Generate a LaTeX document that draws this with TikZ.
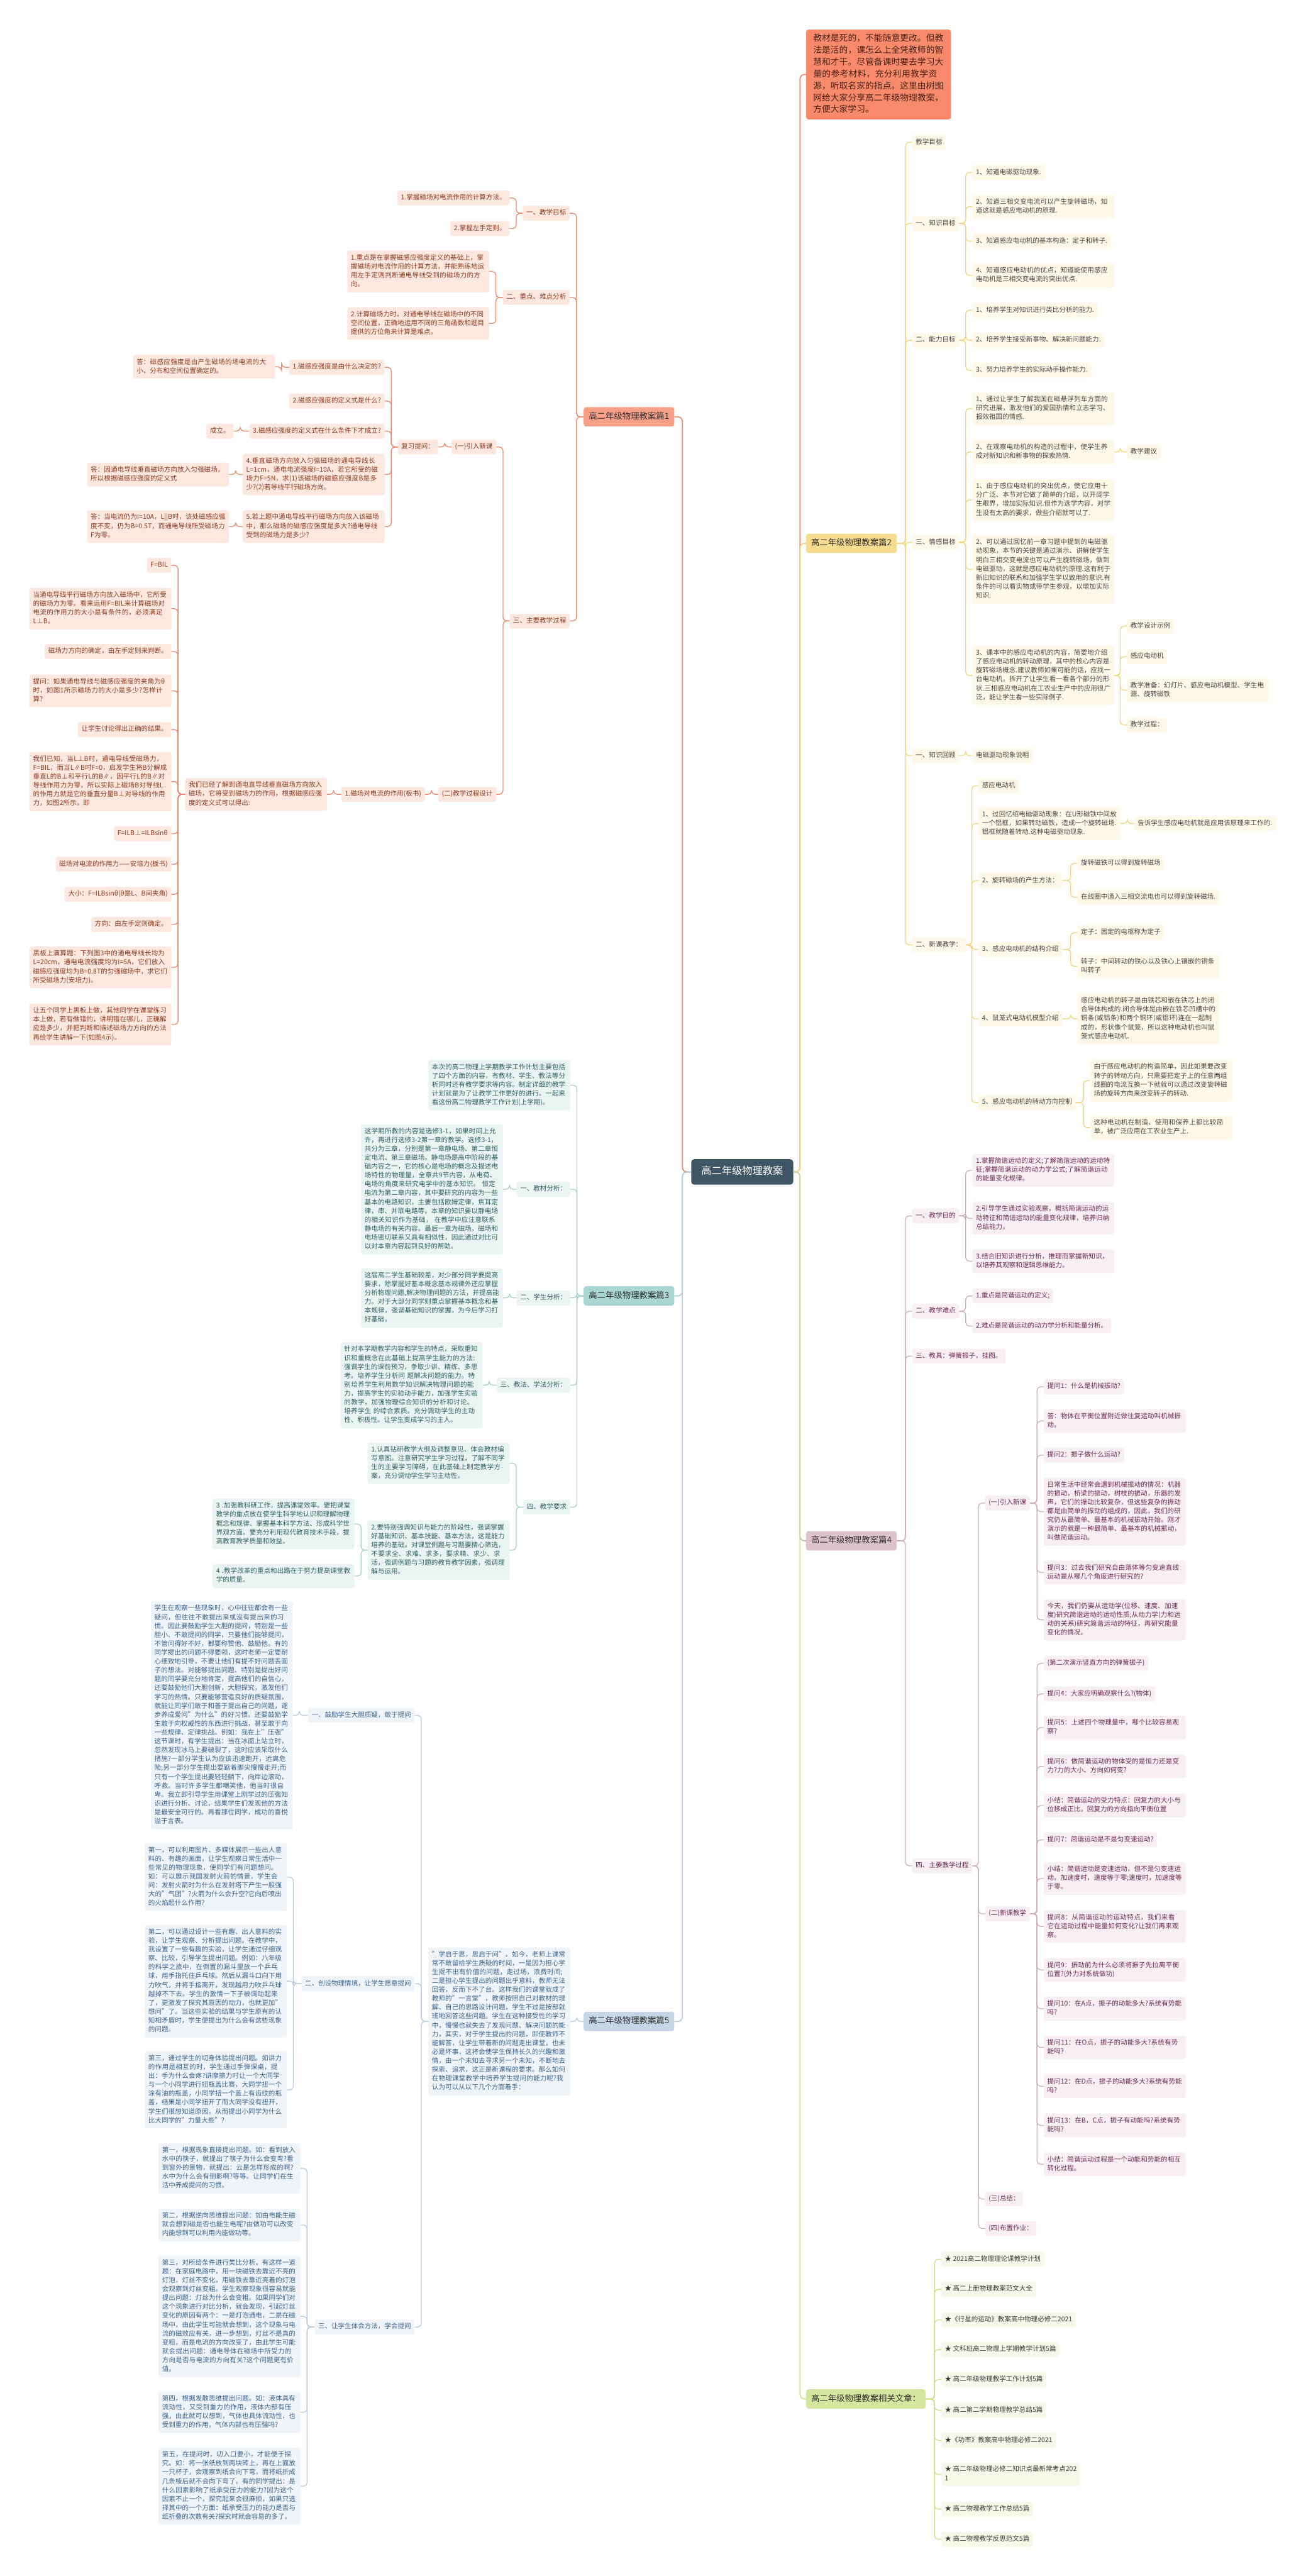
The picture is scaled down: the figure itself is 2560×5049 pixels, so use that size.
\documentclass[tikz,border=0pt]{standalone}
\usepackage{fontspec}
\setmainfont{Noto Sans CJK SC}
\XeTeXlinebreaklocale "zh"
\XeTeXlinebreakskip=0pt plus 1pt

\definecolor{rootF}{HTML}{3F5664}
\definecolor{ink}{HTML}{333333}
\definecolor{introF}{HTML}{F9896B}
\definecolor{introT}{HTML}{4A2418}
\definecolor{oB}{HTML}{F6A088}
\definecolor{oF}{HTML}{FDE8E0}
\definecolor{oT}{HTML}{8A3A20}
\definecolor{oL}{HTML}{EC8B70}
\definecolor{yB}{HTML}{F7DC90}
\definecolor{yF}{HTML}{FDF8E7}
\definecolor{yT}{HTML}{474747}
\definecolor{yL}{HTML}{F2D57F}
\definecolor{tB}{HTML}{A9D6D0}
\definecolor{tF}{HTML}{EAF4F2}
\definecolor{tT}{HTML}{2F625C}
\definecolor{tL}{HTML}{A6D1CB}
\definecolor{mB}{HTML}{DCC2CD}
\definecolor{mF}{HTML}{F7EFF3}
\definecolor{mT}{HTML}{6C2B4B}
\definecolor{mL}{HTML}{CDAFBC}
\definecolor{bB}{HTML}{C7D6E6}
\definecolor{bF}{HTML}{EFF4F9}
\definecolor{bT}{HTML}{3A6189}
\definecolor{bL}{HTML}{BBCDE0}
\definecolor{gB}{HTML}{D6E69F}
\definecolor{gF}{HTML}{F6F9EA}
\definecolor{gT}{HTML}{3A3A3A}
\definecolor{gL}{HTML}{CFE190}

\tikzset{
  box/.style={rounded corners=4pt, inner xsep=7pt, inner ysep=5.8pt, align=left,
    font=\fontsize{13}{17.4}\selectfont,
    execute at begin node=\strut, execute at end node=\strut},
  wd/.style={text width=264pt},
  bra/.style={rounded corners=5pt, inner xsep=10pt, inner ysep=8pt, text=ink,
    font=\fontsize{16.5}{22}\selectfont, execute at begin node=\strut},
  lk/.style={line width=1.6pt, rounded corners=7pt},
  trunk/.style={line width=2.2pt, rounded corners=9pt},
  nO/.style={box, fill=oF, text=oT}, lO/.style={lk, draw=oL},
  nY/.style={box, fill=yF, text=yT}, lY/.style={lk, draw=yL},
  nT/.style={box, fill=tF, text=tT}, lT/.style={lk, draw=tL},
  nM/.style={box, fill=mF, text=mT}, lM/.style={lk, draw=mL},
  nB/.style={box, fill=bF, text=bT}, lB/.style={lk, draw=bL},
  nG/.style={box, fill=gF, text=gT}, lG/.style={lk, draw=gL}
}
\newcommand\lkL[3]{\foreach \kid in {#3}{\draw[#1] (\kid.east) -- ++(13,0) |- (#2.west);}}
\newcommand\lkR[3]{\foreach \kid in {#3}{\draw[#1] (\kid.west) -- ++(-13,0) |- (#2.east);}}

\begin{document}
\begin{tikzpicture}[x=1pt,y=-1pt]
\fill[white] (0,0) rectangle (2560,5049);
\useasboundingbox (0,0) rectangle (2560,5049);

\node[fill=rootF, text=white, rounded corners=6pt, inner xsep=20pt, inner ysep=12pt,
  font=\fontsize{20}{26}\selectfont, execute at begin node=\strut] (root) at (1455,2297) {高二年级物理教案};

% 篇1
\node[bra, fill=oB, right] (p1) at (1144,817) {高二年级物理教案篇1};
\node[nO, left] (p1a) at (1117,418) {一、教学目标};
\node[nO, left] (p1a1) at (999,388) {1.掌握磁场对电流作用的计算方法。};
\node[nO, left] (p1a2) at (999,448) {2.掌握左手定则。};
\node[nO, left] (p1b) at (1117,583) {二、重点、难点分析};
\node[nO, wd, left] (p1b1) at (959,532) {1.重点是在掌握磁感应强度定义的基础上，掌握磁场对电流作用的计算方法，并能熟练地运用左手定则判断通电导线受到的磁场力的方向。};
\node[nO, wd, left] (p1b2) at (959,634) {2.计算磁场力时，对通电导线在磁场中的不同空间位置，正确地运用不同的三角函数和题目提供的方位角来计算是难点。};
\node[nO, left] (p1c) at (1117,1217) {三、主要教学过程};
\node[nO, left] (p1c1) at (973,876) {(一)引入新课};
\node[nO, left] (fx) at (859,876) {复习提问：};
\node[nO, left] (q1) at (754,720) {1.磁感应强度是由什么决定的?};
\node[nO, left] (q2) at (754,786) {2.磁感应强度的定义式是什么?};
\node[nO, left] (q3) at (754,845) {3.磁感应强度的定义式在什么条件下才成立?};
\node[nO, wd, left] (q4) at (754,930) {4.垂直磁场方向放入匀强磁场的通电导线长L=1cm，通电电流强度I=10A，若它所受的磁场力F=5N，求(1)该磁场的磁感应强度B是多少?(2)若导线平行磁场方向。};
\node[nO, wd, left] (q5) at (754,1032) {5.若上题中通电导线平行磁场方向放入该磁场中，那么磁场的磁感应强度是多大?通电导线受到的磁场力是多少?};
\node[nO, wd, left] (a1) at (539,719) {答：磁感应强度是由产生磁场的场电流的大小、分布和空间位置确定的。};
\node[nO, left] (a3) at (458,845) {成立。};
\node[nO, wd, left] (a4) at (449,930) {答：因通电导线垂直磁场方向放入匀强磁场，所以根据磁感应强度的定义式};
\node[nO, wd, left] (a5) at (449,1032) {答：当电流仍为I=10A，L||B时，该处磁感应强度不变，仍为B=0.5T，而通电导线所受磁场力F为零。};
\node[nO, left] (p1c2) at (973,1557) {(二)教学过程设计};
\node[nO, left] (bz) at (833,1557) {1.磁场对电流的作用(板书)};
\node[nO, wd, left] (bp) at (641,1557) {我们已经了解到通电直导线垂直磁场方向放入磁场，它将受到磁场力的作用，根据磁感应强度的定义式可以得出:};
\node[nO, left] (c1) at (336,1108) {F=BIL};
\node[nO, wd, left] (c2) at (336,1193) {当通电导线平行磁场方向放入磁场中，它所受的磁场力为零。看来运用F=BIL来计算磁场对电流的作用力的大小是有条件的，必须满足L⊥B。};
\node[nO, left] (c3) at (336,1277) {磁场力方向的确定，由左手定则来判断。};
\node[nO, wd, left] (c4) at (336,1354) {提问：如果通电导线与磁感应强度的夹角为θ时，如图1所示磁场力的大小是多少?怎样计算?};
\node[nO, left] (c5) at (336,1430) {让学生讨论得出正确的结果。};
\node[nO, wd, left] (c6) at (336,1532) {我们已知，当L⊥B时，通电导线受磁场力，F=BIL，而当L∥B时F=0，启发学生将B分解成垂直L的B⊥和平行L的B∥，因平行L的B∥对导线作用力为零，所以实际上磁场B对导线L的作用力就是它的垂直分量B⊥对导线的作用力，如图2所示。即};
\node[nO, left] (c7) at (336,1634) {F=ILB⊥=ILBsinθ};
\node[nO, left] (c8) at (336,1694) {磁场对电流的作用力——安培力(板书)};
\node[nO, left] (c9) at (336,1753) {大小：F=ILBsinθ(θ是L、B间夹角)};
\node[nO, left] (c10) at (336,1812) {方向：由左手定则确定。};
\node[nO, wd, left] (c11) at (336,1896) {黑板上演算题：下列图3中的通电导线长均为L=20cm，通电电流强度均为I=5A，它们放入磁感应强度均为B=0.8T的匀强磁场中，求它们所受磁场力(安培力)。};
\node[nO, wd, left] (c12) at (336,2008) {让五个同学上黑板上做，其他同学在课堂练习本上做，若有做错的，讲明错在哪儿，正确解应是多少，并把判断和描述磁场力方向的方法再给学生讲解一下(如图4示)。};

% 篇3
\node[bra, fill=tB, right] (p3) at (1144,2540) {高二年级物理教案篇3};
\node[nT, wd, left] (p3i) at (1118,2127) {本次的高二物理上学期教学工作计划主要包括了四个方面的内容，有教材、学生、教法等分析同时还有教学要求等内容。制定详细的教学计划就是为了让教学工作更好的进行。一起来看这份高二物理教学工作计划(上学期)。};
\node[nT, left] (p3a) at (1118,2331) {一、教材分析：};
\node[nT, wd, left] (p3a1) at (986,2331) {这学期所教的内容是选修3-1，如果时间上允许，再进行选修3-2第一章的教学。选修3-1，共分为三章，分别是第一章静电场、第二章恒定电流、第三章磁场。静电场是高中阶段的基础内容之一，它的核心是电场的概念及描述电场特性的物理量，全章共9节内容，从电荷、电场的角度来研究电学中的基本知识。 恒定电流为第二章内容，其中要研究的内容为一些基本的电路知识，主要包括欧姆定律，焦耳定律，串、并联电路等。本章的知识要以静电场的相关知识作为基础， 在教学中应注意联系静电场的有关内容。最后一章为磁场，磁场和电场密切联系又具有相似性，因此通过对比可以对本章内容起到良好的帮助。};
\node[nT, left] (p3b) at (1118,2544) {二、学生分析：};
\node[nT, wd, left] (p3b1) at (986,2544) {这届高二学生基础较差，对少部分同学要提高要求，除掌握好基本概念基本规律外还应掌握分析物理问题,解决物理问题的方法，并提高能力。对于大部分同学则重点掌握基本概念和基本规律，强调基础知识的掌握，为今后学习打好基础。};
\node[nT, left] (p3c) at (1118,2715) {三、教法、学法分析：};
\node[nT, wd, left] (p3c1) at (946,2715) {针对本学期教学内容和学生的特点，采取重知识和重概念在此基础上提高学生能力的方法:强调学生的课前预习，争取少讲、精练、多思考。培养学生分析问 题解决问题的能力。特别培养学生利用数学知识解决物理问题的能力，提高学生的实验动手能力，加强学生实验的教学，加强物理综合知识的分析和讨论。培养学生 的综合素质。充分调动学生的主动性、积极性。让学生变成学习的主人。};
\node[nT, left] (p3d) at (1118,2954) {四、教学要求};
\node[nT, wd, left] (p3d1) at (999,2868) {1.认真钻研教学大纲及调整意见、体会教材编写意图。注意研究学生学习过程，了解不同学生的主要学习障碍，在此基础上制定教学方案，充分调动学生学习主动性。};
\node[nT, wd, left] (p3d2) at (999,3038) {2.要特别强调知识与能力的阶段性，强调掌握好基础知识、基本技能、基本方法，这是能力培养的基础。对课堂例题与习题要精心筛选，不要求全、求难、求多，要求精、求少、求活，强调例题与习题的教育教学因素，强调理解与运用。};
\node[nT, wd, left] (p3d3) at (695,2987) {3 .加强教科研工作，提高课堂效率。要把课堂教学的重点放在使学生科学地认识和理解物理概念和规律、掌握基本科学方法、形成科学世界观方面。要充分利用现代教育技术手段，提高教育教学质量和效益。};
\node[nT, wd, left] (p3d4) at (695,3089) {4 .教学改革的重点和出路在于努力提高课堂教学的质量。};

% 篇5
\node[bra, fill=bB, right] (p5) at (1144,3962) {高二年级物理教案篇5};
\node[nB, wd, left] (s0) at (1118,3962) {"学启于思，思启于问"。如今，老师上课常常不敢留给学生质疑的时间，一是因为担心学生提不出有价值的问题，走过场，浪费时间;二是担心学生提出的问题出乎意料，教师无法回答，反而下不了台。这样我们的课堂就成了教师的"一言堂"，教师按照自己对教材的理解、自己的思路设计问题，学生不过是按部就班地回答这些问题。学生在这种接受性的学习中，慢慢也就失去了发现问题、解决问题的能力。其实，对于学生提出的问题，即使教师不能解答，让学生带着新的问题走出课堂，也未必是坏事，这将会使学生保持长久的兴趣和激情，由一个未知去寻求另一个未知，不断地去探索、追求，这正是新课程的要求。那么如何在物理课堂教学中培养学生提问的能力呢?我认为可以从以下几个方面着手：};
\node[nB, left] (s1) at (813,3362) {一、鼓励学生大胆质疑，敢于提问};
\node[nB, wd, left] (s1a) at (574,3362) {学生在观察一些现象时，心中往往都会有一些疑问，但往往不敢提出来或没有提出来的习惯。因此要鼓励学生大胆的提问，特别是一些胆小、不敢提问的同学，只要他们能够提问，不管问得好不好，都要称赞他、鼓励他。有的同学提出的问题不得要领，这时老师一定要耐心细致地引导，不要让他们有提不好问题丢面子的想法。对能够提出问题、特别是提出好问题的同学要充分地肯定，提高他们的自信心，还要鼓励他们大胆创新，大胆探究，激发他们学习的热情。只要能够营造良好的质疑氛围，就能让同学们敢于和善于提出自己的问题，逐步养成爱问"为什么"的好习惯。还要鼓励学生敢于向权威性的东西进行挑战，甚至敢于向一些规律、定律挑战。例如：我在上"压强"这节课时，有学生提出：当在冰面上站立时，忽然发现冰马上要破裂了，这时应该采取什么措施?一部分学生认为应该迅速跑开，远离危险;另一部分学生提出要踮着脚尖慢慢走开;而只有一个学生提出要轻轻躺下，向岸边滚动，呼救。当时许多学生都嘲笑他，他当时很自卑。我立即引导学生用课堂上刚学过的压强知识进行分析、讨论，结果学生们发现他的方法是最安全可行的。再看那位同学，成功的喜悦溢于言表。};
\node[nB, left] (s2) at (813,3888) {二、创设物理情境，让学生愿意提问};
\node[nB, wd, left] (s2a) at (562,3679) {第一，可以利用图片、多媒体展示一些出人意料的、有趣的画面，让学生观察日常生活中一些常见的物理现象，使同学们有问题想问。如：可以展示我国发射火箭的情景，学生会问：发射火箭时为什么在发射塔下产生一股强大的"气团"?火箭为什么会升空?它向后喷出的火焰起什么作用?};
\node[nB, wd, left] (s2b) at (562,3883) {第二，可以通过设计一些有趣、出人意料的实验，让学生观察、分析提出问题。在教学中，我设置了一些有趣的实验，让学生通过仔细观察、比较，引导学生提出问题。例如：八年级的科学之旅中，在倒置的漏斗里放一个乒乓球，用手指托住乒乓球。然后从漏斗口向下用力吹气，并将手指离开，发现越用力吹乒乓球越掉不下去。学生的激情一下子被调动起来了，更激发了探究其原因的动力，也就更加"想问"了。当这些实验的结果与学生原有的认知相矛盾时，学生便提出为什么会有这些现象的问题。};
\node[nB, wd, left] (s2c) at (562,4096) {第三，通过学生的切身体验提出问题。如讲力的作用是相互的时，学生通过手弹课桌，提出：手为什么会疼?讲摩擦力时让一个大同学与一个小同学进行扭瓶盖比赛，大同学扭一个涂有油的瓶盖，小同学扭一个盖上有齿纹的瓶盖，结果是小同学扭开了而大同学没有扭开，学生们很想知道原因，从而提出小同学为什么比大同学的"力量大些"?};
\node[nB, left] (s3) at (813,4561) {三、让学生体会方法，学会提问};
\node[nB, wd, left] (s3a) at (589,4250) {第一，根据现象直接提出问题。如：看到放入水中的筷子，就提出了筷子为什么会变弯?看到窗外的景物，就提出：云是怎样形成的啊?水中为什么会有倒影啊?等等。让同学们在生活中养成提问的习惯。};
\node[nB, wd, left] (s3b) at (589,4361) {第二，根据逆向思维提出问题：如由电能生磁就会想到磁是否也能生电呢?由做功可以改变内能想到可以利用内能做功等。};
\node[nB, wd, left] (s3c) at (589,4540) {第三，对所给条件进行类比分析。有这样一道题：在家庭电路中，用一块磁铁去靠近不亮的灯泡，灯丝不变化，用磁铁去靠近亮着的灯泡会观察到灯丝变粗。学生观察现象很容易就能提出问题：灯丝为什么会变粗。如果同学们对这个现象进行对比分析，就会发现，引起灯丝变化的原因有两个：一是灯泡通电，二是在磁场中，由此学生可能就会想到，这个现象与电流的磁效应有关，进一步想到，灯丝不是真的变粗，而是电流的方向改变了，由此学生可能就会提出问题：通电导体在磁场中所受力的方向是否与电流的方向有关?这个问题更有价值。};
\node[nB, wd, left] (s3d) at (589,4728) {第四，根据发散思维提出问题。如：液体具有流动性，又受到重力的作用，液体内部有压强，由此就可以想到，气体也具体流动性，也受到重力的作用，气体内部也有压强吗?};
\node[nB, wd, left] (s3e) at (589,4873) {第五，在提问时，切入口要小，才能便于探究。如：将一张纸放到两块砖上，再在上面放一只杯子，会观察到纸会向下弯，而将纸折成几条棱后就不会向下弯了。有的同学提出：是什么因素影响了纸承受压力的能力?因为这个因素不止一个，探究起来会很麻烦，如果只选择其中的一个方面：纸承受压力的能力是否与纸折叠的次数有关?探究时就会容易的多了。};

% 引言和篇2
\node[fill=introF, text=introT, rounded corners=5pt, inner xsep=14pt, inner ysep=6.5pt, text width=256pt,
  align=left, font=\fontsize{17}{23.3}\selectfont, execute at begin node=\strut,
  execute at end node=\strut, right] (intro) at (1580,146) {教材是死的，不能随意更改。但教法是活的，课怎么上全凭教师的智慧和才干。尽管备课时要去学习大量的参考材料，充分利用教学资源，听取名家的指点。这里由树图网给大家分享高二年级物理教案，方便大家学习。};
\node[bra, fill=yB, right] (p2) at (1580,1065) {高二年级物理教案篇2};
\node[nY, right] (p2a) at (1788,279) {教学目标};
\node[nY, right] (p2b) at (1788,438) {一、知识目标};
\node[nY, right] (p2b1) at (1906,338) {1、知道电磁驱动现象.};
\node[nY, wd, right] (p2b2) at (1906,405) {2、知道三相交变电流可以产生旋转磁场，知道这就是感应电动机的原理.};
\node[nY, right] (p2b3) at (1906,473) {3、知道感应电动机的基本构造：定子和转子.};
\node[nY, wd, right] (p2b4) at (1906,540) {4、知道感应电动机的优点，知道能使用感应电动机是三相交变电流的突出优点.};
\node[nY, right] (p2c) at (1788,667) {二、能力目标};
\node[nY, right] (p2c1) at (1906,608) {1、培养学生对知识进行类比分析的能力.};
\node[nY, right] (p2c2) at (1906,667) {2、培养学生接受新事物、解决新问题能力.};
\node[nY, right] (p2c3) at (1906,726) {3、努力培养学生的实际动手操作能力.};
\node[nY, right] (p2d) at (1788,1063) {三、情感目标};
\node[nY, wd, right] (p2d1) at (1906,801) {1、通过让学生了解我国在磁悬浮列车方面的研究进展，激发他们的爱国热情和立志学习、报效祖国的情感.};
\node[nY, wd, right] (p2d2) at (1906,886) {2、在观察电动机的构造的过程中，使学生养成对新知识和新事物的探索热情.};
\node[nY, right] (p2dx) at (2209,886) {教学建议};
\node[nY, wd, right] (p2d3) at (1906,980) {1、由于感应电动机的突出优点，使它应用十分广泛、本节对它做了简单的介绍，以开阔学生眼界，增加实际知识.但作为选学内容，对学生没有太高的要求，做些介绍就可以了.};
\node[nY, wd, right] (p2d4) at (1906,1116) {2、可以通过回忆前一章习题中提到的电磁驱动现象，本节的关键是通过演示、讲解使学生明白三相交变电流也可以产生旋转磁场，做到电磁驱动，这就是感应电动机的原理.这有利于新旧知识的联系和加强学生学以致用的意识.有条件的可以看实物或带学生参观，以增加实际知识.};
\node[nY, wd, right] (p2d5) at (1906,1324) {3、课本中的感应电动机的内容，简要地介绍了感应电动机的转动原理，其中的核心内容是旋转磁场概念.建议教师如果可能的话，应找一台电动机，拆开了让学生看一看各个部分的形状.三相感应电动机在工农业生产中的应用很广泛，能让学生看一些实际例子.};
\node[nY, right] (p2e1) at (2209,1227) {教学设计示例};
\node[nY, right] (p2e2) at (2209,1287) {感应电动机};
\node[nY, wd, right] (p2e3) at (2209,1353) {教学准备：幻灯片、感应电动机模型、学生电源、旋转磁铁};
\node[nY, right] (p2e4) at (2209,1421) {教学过程：};
\node[nY, right] (p2f) at (1788,1481) {一、知识回顾};
\node[nY, right] (p2f1) at (1906,1481) {电磁驱动现象说明};
\node[nY, right] (p2g) at (1788,1852) {二、新课教学：};
\node[nY, right] (p2g0) at (1918,1540) {感应电动机};
\node[nY, wd, right] (p2g1) at (1918,1614) {1、过回忆绍电磁驱动现象：在U形磁铁中间放一个铝框，如果转动磁铁，造成一个旋转磁场.铝框就随着转动.这种电磁驱动现象.};
\node[nY, wd, right] (p2g1a) at (2223,1614) {告诉学生感应电动机就是应用该原理来工作的.};
\node[nY, right] (p2g2) at (1918,1726) {2、旋转磁场的产生方法：};
\node[nY, right] (p2g2a) at (2112,1692) {旋转磁铁可以得到旋转磁场};
\node[nY, wd, right] (p2g2b) at (2112,1759) {在线圈中通入三相交流电也可以得到旋转磁场.};
\node[nY, right] (p2g3) at (1918,1861) {3、感应电动机的结构介绍};
\node[nY, right] (p2g3a) at (2112,1828) {定子：固定的电枢称为定子};
\node[nY, wd, right] (p2g3b) at (2112,1894) {转子：中间转动的铁心以及铁心上镶嵌的铜条叫转子};
\node[nY, right] (p2g4) at (1918,1997) {4、鼠笼式电动机模型介绍};
\node[nY, wd, right] (p2g4a) at (2112,1997) {感应电动机的转子是由铁芯和嵌在铁芯上的闭合导体构成的.闭合导体是由嵌在铁芯凹槽中的铜条(或铝条)和两个铜环(或铝环)连在一起制成的，形状像个鼠笼，所以这种电动机也叫鼠笼式感应电动机.};
\node[nY, right] (p2g5) at (1918,2161) {5、感应电动机的转动方向控制};
\node[nY, wd, right] (p2g5a) at (2137,2118) {由于感应电动机的构造简单，因此如果要改变转子的转动方向，只需要把定子上的任意两组线圈的电流互换一下就就可以通过改变旋转磁场的旋转方向来改变转子的转动.};
\node[nY, wd, right] (p2g5b) at (2137,2210) {这种电动机在制造、使用和保养上都比较简单，被广泛应用在工农业生产上.};

% 篇4
\node[bra, fill=mB, right] (p4) at (1580,3020) {高二年级物理教案篇4};
\node[nM, right] (p4a) at (1788,2383) {一、教学目的};
\node[nM, wd, right] (p4a1) at (1906,2294) {1.掌握简谐运动的定义;了解简谐运动的运动特征;掌握简谐运动的动力学公式;了解简谐运动的能量变化规律。};
\node[nM, wd, right] (p4a2) at (1906,2388) {2.引导学生通过实验观察，概括简谐运动的运动特征和简谐运动的能量变化规律，培养归纳总结能力。};
\node[nM, wd, right] (p4a3) at (1906,2472) {3.结合旧知识进行分析，推理而掌握新知识，以培养其观察和逻辑思维能力。};
\node[nM, right] (p4b) at (1788,2570) {二、教学难点};
\node[nM, right] (p4b1) at (1906,2540) {1.重点是简谐运动的定义;};
\node[nM, right] (p4b2) at (1906,2599) {2.难点是简谐运动的动力学分析和能量分析。};
\node[nM, right] (p4c) at (1788,2658) {三、教具：弹簧振子，挂图。};
\node[nM, right] (p4d) at (1788,3657) {四、主要教学过程};
\node[nM, right] (p4d1) at (1931,2946) {(一)引入新课};
\node[nM, right] (y1) at (2046,2718) {提问1：什么是机械振动?};
\node[nM, wd, right] (y2) at (2046,2785) {答：物体在平衡位置附近做往复运动叫机械振动。};
\node[nM, right] (y3) at (2046,2852) {提问2：振子做什么运动?};
\node[nM, wd, right] (y4) at (2046,2963) {日常生活中经常会遇到机械振动的情况：机器的振动，桥梁的振动，树枝的振动，乐器的发声，它们的振动比较复杂，但这些复杂的振动都是由简单的振动的组成的，因此，我们的研究仍从最简单、最基本的机械振动开始。刚才演示的就是一种最简单、最基本的机械振动，叫做简谐运动。};
\node[nM, wd, right] (y5) at (2046,3082) {提问3：过去我们研究自由落体等匀变速直线运动是从哪几个角度进行研究的?};
\node[nM, wd, right] (y6) at (2046,3175) {今天，我们仍要从运动学(位移、速度、加速度)研究简谐运动的运动性质;从动力学(力和运动的关系)研究简谐运动的特征，再研究能量变化的情况。};
\node[nM, right] (p4d2) at (1931,3751) {(二)新课教学};
\node[nM, right] (x1) at (2046,3260) {(第二次演示竖直方向的弹簧振子)};
\node[nM, right] (x2) at (2046,3320) {提问4：大家应明确观察什么?(物体)};
\node[nM, wd, right] (x3) at (2046,3386) {提问5：上述四个物理量中，哪个比较容易观察?};
\node[nM, wd, right] (x4) at (2046,3462) {提问6：做简谐运动的物体受的是恒力还是变力?力的大小、方向如何变?};
\node[nM, wd, right] (x5) at (2046,3539) {小结：简谐运动的受力特点：回复力的大小与位移成正比，回复力的方向指向平衡位置};
\node[nM, right] (x6) at (2046,3606) {提问7：简谐运动是不是匀变速运动?};
\node[nM, wd, right] (x7) at (2046,3682) {小结：简谐运动是变速运动，但不是匀变速运动。加速度时，速度等于零;速度时，加速度等于零。};
\node[nM, wd, right] (x8) at (2046,3776) {提问8：从简谐运动的运动特点，我们来看它在运动过程中能量如何变化?让我们再来观察。};
\node[nM, wd, right] (x9) at (2046,3861) {提问9：振动前为什么必须将振子先拉离平衡位置?(外力对系统做功)};
\node[nM, wd, right] (x10) at (2046,3937) {提问10：在A点，振子的动能多大?系统有势能吗?};
\node[nM, wd, right] (x11) at (2046,4013) {提问11：在O点，振子的动能多大?系统有势能吗?};
\node[nM, wd, right] (x12) at (2046,4089) {提问12：在D点，振子的动能多大?系统有势能吗?};
\node[nM, wd, right] (x13) at (2046,4166) {提问13：在B，C点，振子有动能吗?系统有势能吗?};
\node[nM, wd, right] (x14) at (2046,4242) {小结：简谐运动过程是一个动能和势能的相互转化过程。};
\node[nM, right] (p4d3) at (1931,4310) {(三)总结：};
\node[nM, right] (p4d4) at (1931,4368) {(四)布置作业：};

% 相关文章
\node[bra, fill=gB, right] (p6) at (1580,4702) {高二年级物理教案相关文章：};
\node[nG, right] (r1) at (1845,4428) {★ 2021高二物理理论课教学计划};
\node[nG, right] (r2) at (1845,4487) {★ 高二上册物理教案范文大全};
\node[nG, right] (r3) at (1845,4547) {★《行星的运动》教案高中物理必修二2021};
\node[nG, right] (r4) at (1845,4605) {★ 文科班高二物理上学期教学计划5篇};
\node[nG, right] (r5) at (1845,4664) {★ 高二年级物理教学工作计划5篇};
\node[nG, right] (r6) at (1845,4724) {★ 高二第二学期物理教学总结5篇};
\node[nG, right] (r7) at (1845,4783) {★《功率》教案高中物理必修二2021};
\node[nG, right] (r8) at (1845,4850) {★ 高二年级物理必修二知识点最新常考点202\\1};
\node[nG, right] (r9) at (1845,4918) {★ 高二物理教学工作总结5篇};
\node[nG, right] (r10) at (1845,4977) {★ 高二物理教学反思范文5篇};

% connectors
\draw[trunk, draw=oL] (root.west) -- ++(-17,0) |- (p1.east);
\draw[trunk, draw=tL] (root.west) -- ++(-17,0) |- (p3.east);
\draw[trunk, draw=bL] (root.west) -- ++(-17,0) |- (p5.east);
\draw[trunk, draw=oL] (root.east) -- ++(13,0) |- (intro.west);
\draw[trunk, draw=yL] (root.east) -- ++(13,0) |- (p2.west);
\draw[trunk, draw=mL] (root.east) -- ++(13,0) |- (p4.west);
\draw[trunk, draw=gL] (root.east) -- ++(13,0) |- (p6.west);

\lkL{lO}{p1}{p1a,p1b,p1c}
\lkL{lO}{p1a}{p1a1,p1a2}
\lkL{lO}{p1b}{p1b1,p1b2}
\lkL{lO}{p1c}{p1c1,p1c2}
\lkL{lO}{p1c1}{fx}
\lkL{lO}{fx}{q1,q2,q3,q4,q5}
\lkL{lO}{q1}{a1}
\lkL{lO}{q3}{a3}
\lkL{lO}{q4}{a4}
\lkL{lO}{q5}{a5}
\lkL{lO}{p1c2}{bz}
\lkL{lO}{bz}{bp}
\lkL{lO}{bp}{c1,c2,c3,c4,c5,c6,c7,c8,c9,c10,c11,c12}

\lkL{lT}{p3}{p3i,p3a,p3b,p3c,p3d}
\lkL{lT}{p3a}{p3a1}
\lkL{lT}{p3b}{p3b1}
\lkL{lT}{p3c}{p3c1}
\lkL{lT}{p3d}{p3d1,p3d2}
\lkL{lT}{p3d2}{p3d3,p3d4}

\lkL{lB}{p5}{s0}
\lkL{lB}{s0}{s1,s2,s3}
\lkL{lB}{s1}{s1a}
\lkL{lB}{s2}{s2a,s2b,s2c}
\lkL{lB}{s3}{s3a,s3b,s3c,s3d,s3e}

\lkR{lY}{p2}{p2a,p2b,p2c,p2d,p2f,p2g}
\lkR{lY}{p2b}{p2b1,p2b2,p2b3,p2b4}
\lkR{lY}{p2c}{p2c1,p2c2,p2c3}
\lkR{lY}{p2d}{p2d1,p2d2,p2d3,p2d4,p2d5}
\lkR{lY}{p2d2}{p2dx}
\lkR{lY}{p2d5}{p2e1,p2e2,p2e3,p2e4}
\lkR{lY}{p2f}{p2f1}
\lkR{lY}{p2g}{p2g0,p2g1,p2g2,p2g3,p2g4,p2g5}
\lkR{lY}{p2g1}{p2g1a}
\lkR{lY}{p2g2}{p2g2a,p2g2b}
\lkR{lY}{p2g3}{p2g3a,p2g3b}
\lkR{lY}{p2g4}{p2g4a}
\lkR{lY}{p2g5}{p2g5a,p2g5b}

\lkR{lM}{p4}{p4a,p4b,p4c,p4d}
\lkR{lM}{p4a}{p4a1,p4a2,p4a3}
\lkR{lM}{p4b}{p4b1,p4b2}
\lkR{lM}{p4d}{p4d1,p4d2,p4d3,p4d4}
\lkR{lM}{p4d1}{y1,y2,y3,y4,y5,y6}
\lkR{lM}{p4d2}{x1,x2,x3,x4,x5,x6,x7,x8,x9,x10,x11,x12,x13,x14}

\lkR{lG}{p6}{r1,r2,r3,r4,r5,r6,r7,r8,r9,r10}
\end{tikzpicture}
\end{document}
